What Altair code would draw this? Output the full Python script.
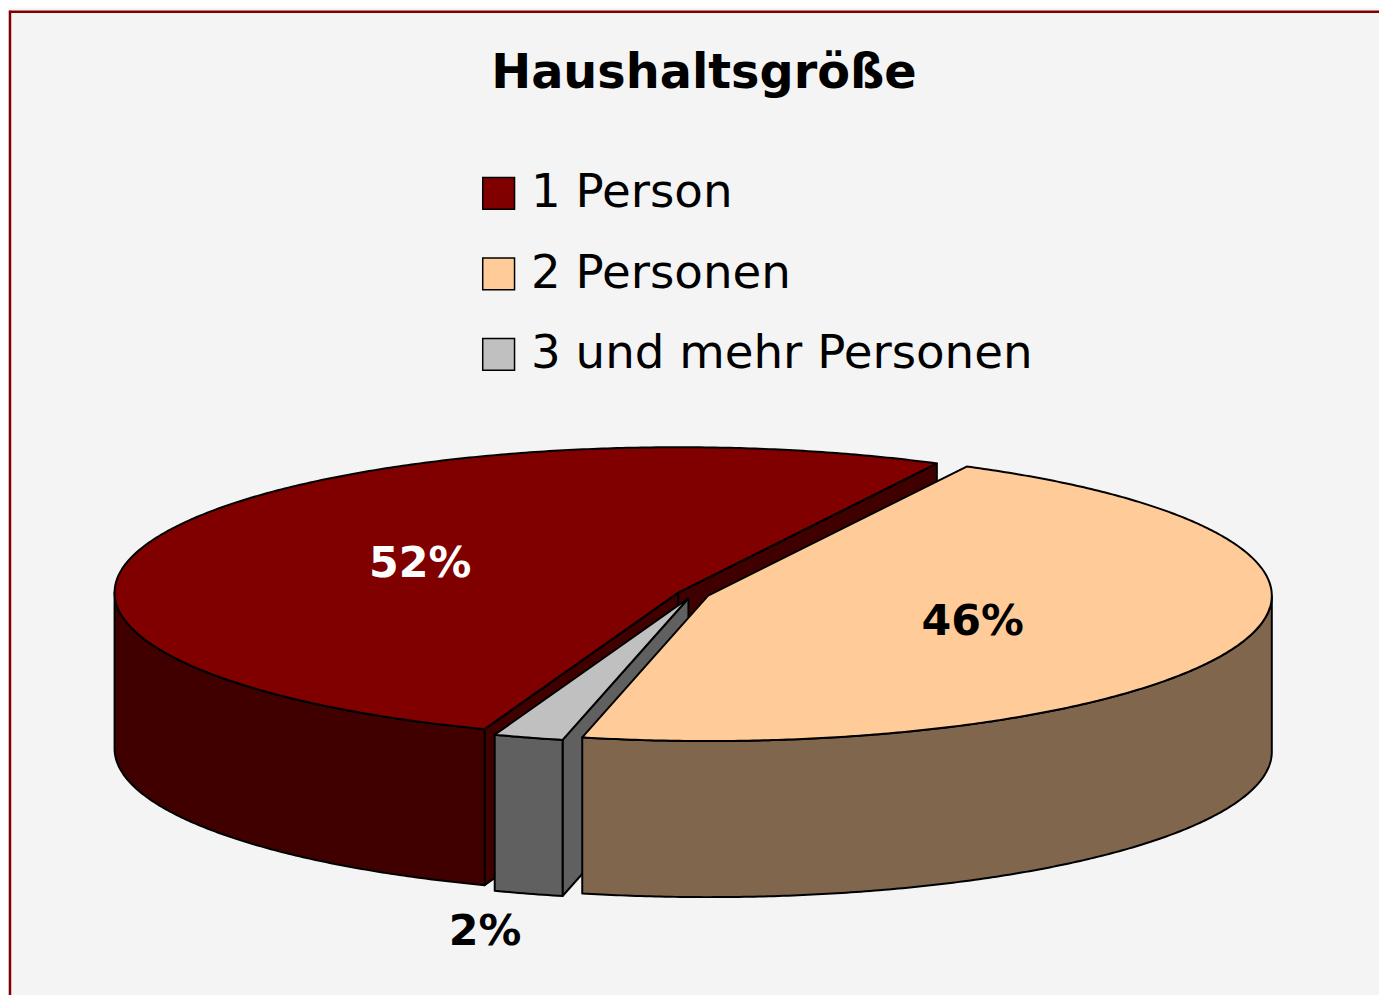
import math
import pandas as pd
import altair as alt

# ---------------- data ----------------
categories = ["1 Person", "2 Personen", "3 und mehr Personen"]
shares = [52, 46, 2]
label_texts = ["52%", "46%", "2%"]
title_text = "Haushaltsgröße"

# ---------------- style / layout ----------------
top_colors = ["#800000", "#FFCC99", "#C0C0C0"]
side_colors = ["#400000", "#7F664C", "#606060"]
label_colors = ["#FFFFFF", "#000000", "#000000"]
BG = "#F4F4F4"
FRAME = "#800000"

W, H = 1379, 987          # plot area (page origin at 8,8)
CX, CY = 697.0, 594.8     # pie centre (page px)
RX, RY = 567.0, 146.2     # ellipse radii of top face
DEPTH = 157.0             # thickness of the pie
EXPLODE = 0.0285          # slice explosion (fraction of radius)
START = 200.1             # first slice start, degrees clockwise from 12 o'clock


def pt(cx, cy, a, dy=0.0):
    r = math.radians(a)
    return cx + RX * math.sin(r), cy - RY * math.cos(r) + dy


def arc(cx, cy, a0, a1, dy=0.0):
    n = max(2, int(abs(a1 - a0) / 0.5) + 1)
    return [pt(cx, cy, a0 + (a1 - a0) * k / (n - 1), dy) for k in range(n)]


total = float(sum(shares))
slices = []
a = START
for cat, v in zip(categories, shares):
    a0, a1 = a, a + 360.0 * v / total
    a = a1
    mid = math.radians((a0 + a1) / 2)
    cx = CX + EXPLODE * RX * math.sin(mid)
    cy = CY - EXPLODE * RY * math.cos(mid)
    slices.append(dict(cat=cat, a0=a0, a1=a1, cx=cx, cy=cy))

radial, curved, tops = [], [], []
for k, s in enumerate(slices):
    cx, cy, a0, a1 = s["cx"], s["cy"], s["a0"], s["a1"]
    for ang, sign in ((a0, -1), (a1, 1)):
        if sign * math.sin(math.radians(ang)) > 1e-9:
            p = pt(cx, cy, ang)
            pts = [(cx, cy), p, (p[0], p[1] + DEPTH), (cx, cy + DEPTH), (cx, cy)]
            radial.append((k, pts))
    for base in (-360, 0, 360):
        s0, s1 = max(a0, 90 + base), min(a1, 270 + base)
        if s1 > s0:
            pts = arc(cx, cy, s0, s1) + arc(cx, cy, s1, s0, DEPTH)
            pts.append(pts[0])
            curved.append((k, pts))
    pts = [(cx, cy)] + arc(cx, cy, a0, a1) + [(cx, cy)]
    tops.append((k, pts))

rows = []
polys = []
pid = 0
for kind, group in (("side", radial), ("side", curved), ("top", tops)):
    for k, pts in group:
        for i, (x, y) in enumerate(pts):
            rows.append(dict(pid=pid, i=i, x=x, y=y, cat=categories[k]))
        polys.append((pid, kind, k))
        pid += 1
df = pd.DataFrame(rows)

lab_rows = []
for k, s in enumerate(slices):
    mid = (s["a0"] + s["a1"]) / 2
    if shares[k] / total >= 0.05:
        lx, ly = pt(s["cx"], s["cy"], mid)
        lx = s["cx"] + 0.5 * (lx - s["cx"])
        ly = s["cy"] + 0.5 * (ly - s["cy"]) + 14
    else:
        px, py = pt(s["cx"], s["cy"], mid, DEPTH)
        lx = s["cx"] + 1.27 * (px - s["cx"])
        ly = py + 52
    lab_rows.append(dict(cat=categories[k], label=label_texts[k], lx=lx, ly=ly,
                         tcolor=label_colors[k]))
labels = pd.DataFrame(lab_rows)

xs = alt.Scale(domain=[8, 8 + W], zero=False, nice=False)
ys = alt.Scale(domain=[8, 8 + H], zero=False, nice=False, reverse=True)
X = alt.X("x:Q", scale=xs, axis=None)
Y = alt.Y("y:Q", scale=ys, axis=None)

legend = alt.Legend(
    orient="none", legendX=470, legendY=160, title=None, padding=0,
    symbolType="square", symbolSize=1024, symbolStrokeColor="black",
    symbolStrokeWidth=1.5,
    labelFont="DejaVu Sans", labelFontSize=47, labelColor="black",
    labelOffset=9, rowPadding=33, labelLimit=800,
)

layers = []
for pid_, kind, k in polys:
    base = alt.Chart(df).transform_filter(alt.datum.pid == pid_)
    if kind == "side":
        layers.append(base.mark_line(fill=side_colors[k], stroke="black",
                                     strokeWidth=2, strokeJoin="round")
                      .encode(x=X, y=Y, order="i:Q"))
    else:
        layers.append(base.mark_line(stroke="black", strokeWidth=2, strokeJoin="round")
                      .encode(x=X, y=Y, order="i:Q",
                              fill=alt.Fill("cat:N",
                                            scale=alt.Scale(domain=categories, range=top_colors),
                                            legend=legend)))

label_layer = alt.Chart(labels).mark_text(
    font="DejaVu Sans", fontSize=43, fontWeight="bold", align="center", baseline="alphabetic"
).encode(
    x=alt.X("lx:Q", scale=xs, axis=None),
    y=alt.Y("ly:Q", scale=ys, axis=None),
    text="label:N",
    color=alt.Color("tcolor:N", scale=None),
)

title_df = pd.DataFrame([dict(t=title_text, tx=708, ty=86)])
title_layer = alt.Chart(title_df).mark_text(
    font="DejaVu Sans", fontSize=48, fontWeight="bold", align="center",
    baseline="alphabetic", color="black"
).encode(
    x=alt.X("tx:Q", scale=xs, axis=None),
    y=alt.Y("ty:Q", scale=ys, axis=None),
    text="t:N",
)

one = pd.DataFrame({"a": [0]})
frame_top = alt.Chart(one).mark_rule(color=FRAME, strokeWidth=2.5).encode(
    x=alt.value(1), x2=alt.value(W + 20), y=alt.value(1))
frame_left = alt.Chart(one).mark_rule(color=FRAME, strokeWidth=2.5).encode(
    x=alt.value(2), y=alt.value(0), y2=alt.value(H + 20))

chart = alt.layer(frame_top, frame_left, title_layer, *layers, label_layer).properties(
    width=W, height=H, padding=0, autosize=alt.AutoSizeParams(type="none"),
    background=BG,
).configure_view(stroke=None)

chart.save("out.html", embed_options={"renderer": "svg", "actions": False})
